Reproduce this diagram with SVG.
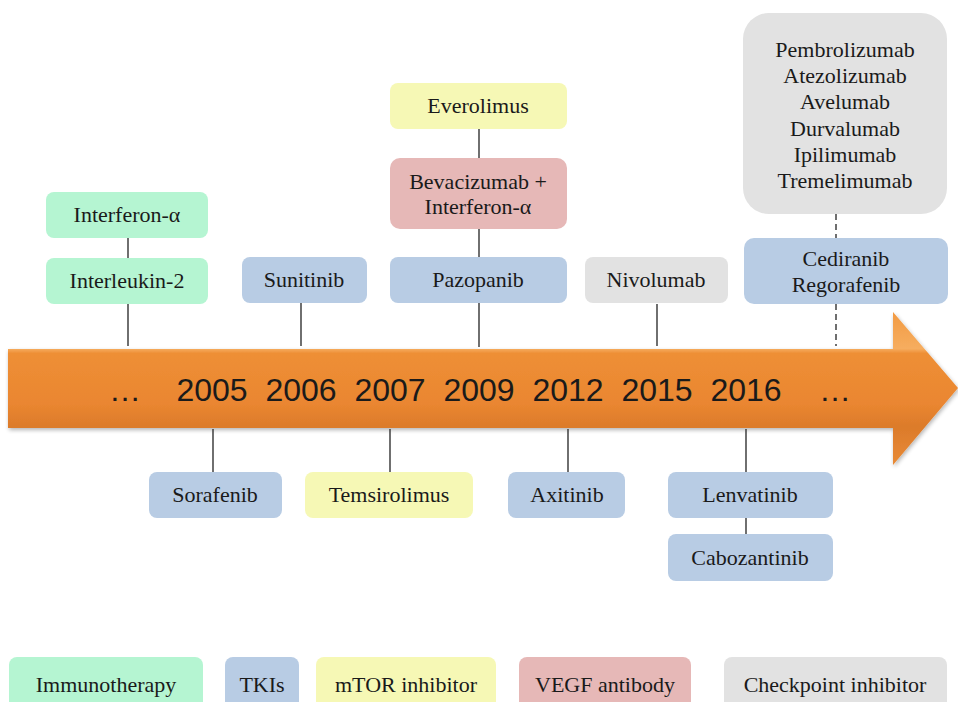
<svg xmlns="http://www.w3.org/2000/svg" width="958" height="702" viewBox="0 0 958 702">
<style>
.box{stroke:none}
.im{fill:#b5f5d2}
.tk{fill:#b8cce4}
.mt{fill:#f6f8b5}
.ve{fill:#e6b8b7}
.cp{fill:#e2e2e2}
.t{font-family:"Liberation Serif","Times New Roman",serif;font-size:22px;fill:#1a1a1a;text-anchor:middle}
.yr{font-family:"Liberation Sans",Arial,sans-serif;font-size:32px;fill:#1a1a1a;text-anchor:middle}
.ln{stroke:#333;stroke-width:1.4;fill:none}
.dl{stroke:#333;stroke-width:1.4;fill:none;stroke-dasharray:6 4}
</style>
<defs>
<linearGradient id="og" gradientUnits="userSpaceOnUse" x1="0" y1="312" x2="0" y2="465">
<stop offset="0" stop-color="#f29a42"/>
<stop offset="0.24" stop-color="#f6ad5f"/>
<stop offset="0.27" stop-color="#ee8f36"/>
<stop offset="0.6" stop-color="#ea8630"/>
<stop offset="0.75" stop-color="#dc7b2b"/>
<stop offset="1" stop-color="#e88a35"/>
</linearGradient>
<filter id="sh" x="-5%" y="-20%" width="110%" height="140%">
<feGaussianBlur in="SourceAlpha" stdDeviation="2"/>
<feOffset dx="1" dy="2"/>
<feComponentTransfer><feFuncA type="linear" slope="0.3"/></feComponentTransfer>
<feMerge><feMergeNode/><feMergeNode in="SourceGraphic"/></feMerge>
</filter>
</defs>
<rect width="958" height="702" fill="#ffffff"/>

<g id="timeline-arrow">
<path d="M8,349 L893,349 L893,312 L958,388 L893,465 L893,428 L8,428 Z" fill="url(#og)" filter="url(#sh)"/>
<text class="yr" x="125" y="401">…</text>
<text class="yr" x="212" y="401">2005</text>
<text class="yr" x="301" y="401">2006</text>
<text class="yr" x="390" y="401">2007</text>
<text class="yr" x="479" y="401">2009</text>
<text class="yr" x="568" y="401">2012</text>
<text class="yr" x="657" y="401">2015</text>
<text class="yr" x="746" y="401">2016</text>
<text class="yr" x="835" y="401">…</text>
</g>

<g id="connectors">
<line class="ln" x1="128" y1="238" x2="128" y2="258"/>
<line class="ln" x1="128" y1="304" x2="128" y2="346"/>
<line class="ln" x1="301" y1="303" x2="301" y2="346"/>
<line class="ln" x1="479" y1="129" x2="479" y2="158"/>
<line class="ln" x1="479" y1="229" x2="479" y2="257"/>
<line class="ln" x1="479" y1="303" x2="479" y2="347"/>
<line class="ln" x1="657" y1="304" x2="657" y2="346"/>
<line class="dl" x1="836" y1="214" x2="836" y2="238"/>
<line class="dl" x1="836" y1="304" x2="836" y2="346"/>
<line class="ln" x1="213" y1="429" x2="213" y2="472"/>
<line class="ln" x1="390" y1="429" x2="390" y2="472"/>
<line class="ln" x1="568" y1="429" x2="568" y2="472"/>
<line class="ln" x1="746" y1="429" x2="746" y2="472"/>
<line class="ln" x1="746" y1="518" x2="746" y2="534"/>
</g>

<g id="interferon">
<rect class="box im" x="46" y="192" width="162" height="46" rx="8"/>
<text class="t" x="127" y="222">Interferon-α</text>
</g>
<g id="interleukin">
<rect class="box im" x="46" y="258" width="162" height="46" rx="8"/>
<text class="t" x="127" y="288">Interleukin-2</text>
</g>
<g id="sunitinib">
<rect class="box tk" x="242" y="257" width="125" height="46" rx="8"/>
<text class="t" x="304" y="287">Sunitinib</text>
</g>
<g id="everolimus">
<rect class="box mt" x="390" y="83" width="177" height="46" rx="8"/>
<text class="t" x="478" y="113">Everolimus</text>
</g>
<g id="bevacizumab">
<rect class="box ve" x="390" y="158" width="177" height="71" rx="10"/>
<text class="t" x="478" y="189">Bevacizumab +</text>
<text class="t" x="478" y="214">Interferon-α</text>
</g>
<g id="pazopanib">
<rect class="box tk" x="390" y="257" width="177" height="46" rx="8"/>
<text class="t" x="478" y="287">Pazopanib</text>
</g>
<g id="nivolumab">
<rect class="box cp" x="585" y="257" width="143" height="46" rx="8"/>
<text class="t" x="656" y="287">Nivolumab</text>
</g>
<g id="checkpoint-list">
<rect class="box cp" x="743" y="13" width="204" height="201" rx="26"/>
<text class="t" x="845" y="57">Pembrolizumab</text>
<text class="t" x="845" y="83">Atezolizumab</text>
<text class="t" x="845" y="109">Avelumab</text>
<text class="t" x="845" y="136">Durvalumab</text>
<text class="t" x="845" y="162">Ipilimumab</text>
<text class="t" x="845" y="188">Tremelimumab</text>
</g>
<g id="cediranib">
<rect class="box tk" x="744" y="238" width="204" height="66" rx="10"/>
<text class="t" x="846" y="266">Cediranib</text>
<text class="t" x="846" y="292">Regorafenib</text>
</g>
<g id="sorafenib">
<rect class="box tk" x="149" y="472" width="133" height="46" rx="8"/>
<text class="t" x="215" y="502">Sorafenib</text>
</g>
<g id="temsirolimus">
<rect class="box mt" x="305" y="472" width="168" height="46" rx="8"/>
<text class="t" x="389" y="502">Temsirolimus</text>
</g>
<g id="axitinib">
<rect class="box tk" x="508" y="472" width="117" height="46" rx="8"/>
<text class="t" x="567" y="502">Axitinib</text>
</g>
<g id="lenvatinib">
<rect class="box tk" x="668" y="472" width="165" height="46" rx="8"/>
<text class="t" x="750" y="502">Lenvatinib</text>
</g>
<g id="cabozantinib">
<rect class="box tk" x="668" y="534" width="165" height="47" rx="8"/>
<text class="t" x="750" y="565">Cabozantinib</text>
</g>

<g id="legend-immunotherapy">
<rect class="box im" x="9" y="657" width="194" height="52" rx="8"/>
<text class="t" x="106" y="692">Immunotherapy</text>
</g>
<g id="legend-tkis">
<rect class="box tk" x="225" y="657" width="74" height="52" rx="8"/>
<text class="t" x="262" y="692">TKIs</text>
</g>
<g id="legend-mtor">
<rect class="box mt" x="316" y="657" width="180" height="52" rx="8"/>
<text class="t" x="406" y="692">mTOR inhibitor</text>
</g>
<g id="legend-vegf">
<rect class="box ve" x="519" y="657" width="172" height="52" rx="8"/>
<text class="t" x="605" y="692">VEGF antibody</text>
</g>
<g id="legend-checkpoint">
<rect class="box cp" x="724" y="657" width="223" height="52" rx="8"/>
<text class="t" x="835" y="692">Checkpoint inhibitor</text>
</g>
</svg>
